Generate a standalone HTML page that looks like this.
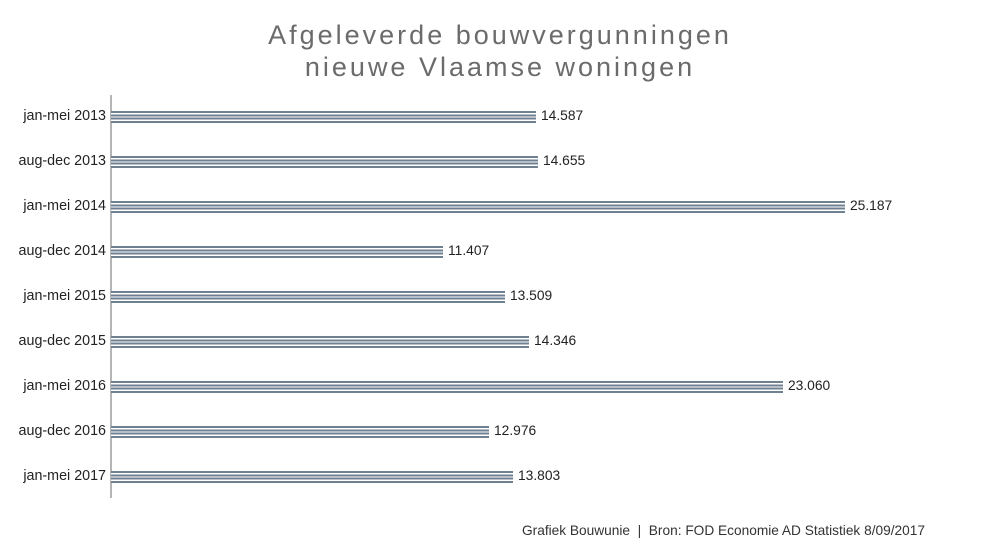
<!DOCTYPE html><html><head><style>body{margin:0;background:#fff;width:990px;height:553px;position:relative;font-family:"Liberation Sans",sans-serif;overflow:hidden}
.t{position:absolute;left:0;width:1000px;text-align:center;color:#6b6b6b;font-size:27px;letter-spacing:3px}
.l{position:absolute;right:884px;font-size:14.3px;color:#222;text-align:right;white-space:nowrap}
.v{position:absolute;font-size:13.8px;color:#222}
.b{position:absolute;left:111px;height:12px;background:repeating-linear-gradient(#6f8091 0 2px,#fff 2px 3.3px)}
</style></head><body>
<div class="t" style="top:20px">Afgeleverde bouwvergunningen</div>
<div class="t" style="top:52px">nieuwe Vlaamse woningen</div>
<div style="position:absolute;left:110px;top:95px;width:2px;height:403px;background:#b5b5b5"></div>
<div class="l" style="top:108px">jan-mei 2013</div><div class="b" style="top:111px;width:425px"></div><div class="v" style="left:541px;top:108px">14.587</div>
<div class="l" style="top:153px">aug-dec 2013</div><div class="b" style="top:156px;width:427px"></div><div class="v" style="left:543px;top:153px">14.655</div>
<div class="l" style="top:198px">jan-mei 2014</div><div class="b" style="top:201px;width:734px"></div><div class="v" style="left:850px;top:198px">25.187</div>
<div class="l" style="top:243px">aug-dec 2014</div><div class="b" style="top:246px;width:332px"></div><div class="v" style="left:448px;top:243px">11.407</div>
<div class="l" style="top:288px">jan-mei 2015</div><div class="b" style="top:291px;width:394px"></div><div class="v" style="left:510px;top:288px">13.509</div>
<div class="l" style="top:333px">aug-dec 2015</div><div class="b" style="top:336px;width:418px"></div><div class="v" style="left:534px;top:333px">14.346</div>
<div class="l" style="top:378px">jan-mei 2016</div><div class="b" style="top:381px;width:672px"></div><div class="v" style="left:788px;top:378px">23.060</div>
<div class="l" style="top:423px">aug-dec 2016</div><div class="b" style="top:426px;width:378px"></div><div class="v" style="left:494px;top:423px">12.976</div>
<div class="l" style="top:468px">jan-mei 2017</div><div class="b" style="top:471px;width:402px"></div><div class="v" style="left:518px;top:468px">13.803</div>
<div style="position:absolute;left:522px;top:523px;font-size:13.7px;color:#333;white-space:nowrap">Grafiek Bouwunie&nbsp; | &nbsp;Bron: FOD Economie AD Statistiek 8/09/2017</div>
</body></html>
